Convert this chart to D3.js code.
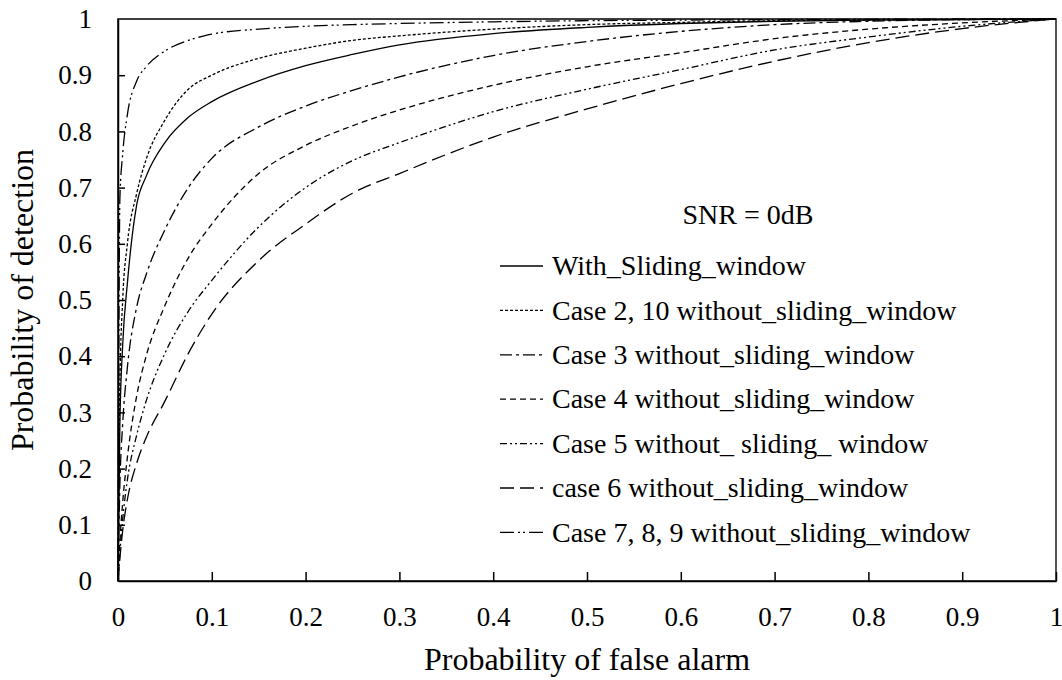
<!DOCTYPE html>
<html lang="en">
<head>
<meta charset="UTF-8">
<title>ROC curves</title>
<script src="https://cdn.jsdelivr.net/npm/d3@7/dist/d3.min.js"></script>
<style>
    body { margin: 0; background: #fff; }
    .axis path, .axis line { stroke: #000; stroke-width: 1.5; }
    .curve { fill: none; stroke: #000; stroke-width: 1.3; }
</style>
</head>
<body>
<div id="chart"></div>
<script>
// probability of false alarm grid (shared by every curve)
var pf = [0, 0.002, 0.005, 0.01, 0.02, 0.03, 0.05, 0.075, 0.1, 0.15, 0.2, 0.25, 0.3, 0.4, 0.5, 0.6, 0.7, 0.8, 0.9, 1];

// probability of detection
var pdSliding = [0, 0.28, 0.42, 0.53, 0.67, 0.72, 0.78, 0.825, 0.853, 0.89, 0.917, 0.937, 0.954, 0.974, 0.985, 0.992, 0.996, 0.998, 0.999, 1];
var pdCase2   = [0, 0.35, 0.50, 0.60, 0.69, 0.75, 0.82, 0.875, 0.90, 0.93, 0.948, 0.962, 0.97, 0.982, 0.99, 0.994, 0.997, 0.998, 0.999, 1];
var pdCase3   = [0, 0.17, 0.28, 0.38, 0.488, 0.545, 0.625, 0.70, 0.752, 0.808, 0.845, 0.873, 0.897, 0.935, 0.96, 0.978, 0.99, 0.996, 0.999, 1];
var pdCase4   = [0, 0.07, 0.14, 0.22, 0.33, 0.40, 0.49, 0.575, 0.635, 0.725, 0.775, 0.81, 0.838, 0.882, 0.915, 0.94, 0.965, 0.982, 0.993, 1];
var pdCase5   = [0, 0.05, 0.11, 0.18, 0.26, 0.32, 0.405, 0.48, 0.535, 0.63, 0.70, 0.748, 0.78, 0.835, 0.875, 0.91, 0.945, 0.968, 0.987, 1];
var pdCase6   = [0, 0.04, 0.09, 0.145, 0.21, 0.255, 0.32, 0.405, 0.475, 0.57, 0.635, 0.69, 0.725, 0.79, 0.84, 0.885, 0.925, 0.958, 0.983, 1];
var pdCase7   = [0, 0.68, 0.76, 0.83, 0.89, 0.915, 0.943, 0.962, 0.973, 0.982, 0.987, 0.99, 0.992, 0.995, 0.997, 0.998, 0.999, 0.9995, 1, 1];

var seriesNames = [
    "With_Sliding_window",
    "Case 2, 10 without_sliding_window",
    "Case 3 without_sliding_window",
    "Case 4 without_sliding_window",
    "Case 5 without_ sliding_ window",
    "case 6 without_sliding_window",
    "Case 7, 8, 9 without_sliding_window"
];
var seriesValues = [pdSliding, pdCase2, pdCase3, pdCase4, pdCase5, pdCase6, pdCase7];
var dashes = ["none", "3,2", "12,4,3,4", "6,4", "7,3,2,3,2,3", "14,6", "14,4,2,3,2,4"];

var xTicks = d3.range(0, 11).map(function(i) { return i / 10; });
var yTicks = xTicks;

var serif = "'Times New Roman', 'Liberation Serif', 'DejaVu Serif', serif";

var container = { width: 1062, height: 680 };
var margin = { top: 19, right: 6, bottom: 99, left: 118 };
var width = container.width - margin.left - margin.right,
    height = container.height - margin.top - margin.bottom;

var svg = d3.select("#chart").append("svg")
    .attr("width", container.width)
    .attr("height", container.height)
    .attr("font-family", serif);

var g = svg.append("g")
    .attr("transform", "translate(" + margin.left + "," + margin.top + ")");

// scales
var x = d3.scaleLinear().domain([0, 1]).range([0, width]);
var y = d3.scaleLinear().domain([0, 1]).range([height, 0]);

function fmt(d) { return d === 0 || d === 1 ? String(d) : d.toFixed(1); }

// frame
g.append("rect")
    .attr("width", width)
    .attr("height", height)
    .attr("fill", "none")
    .attr("stroke", "#000")
    .attr("stroke-width", 1.5);
g.append("line")
    .attr("x1", width).attr("x2", width)
    .attr("y1", 0).attr("y2", height)
    .attr("stroke", "#555").attr("stroke-width", 2);

function styleTicks(a) {
    a.attr("font-family", serif);
    a.selectAll("text").attr("font-family", serif).style("font-size", "27px").attr("fill", "#000");
}

g.append("g")
    .attr("class", "axis")
    .attr("transform", "translate(0," + height + ")")
    .call(d3.axisBottom(x).tickValues(xTicks).tickFormat(fmt)
        .tickSizeInner(-9).tickSizeOuter(0).tickPadding(26))
    .call(styleTicks);

g.append("g")
    .attr("class", "axis")
    .call(d3.axisLeft(y).tickValues(yTicks.filter(function(d) { return d > 0 && d < 1; })).tickFormat(fmt)
        .tickSizeInner(-7).tickSizeOuter(0).tickPadding(26))
    .call(styleTicks);

// 0 and 1 on the y axis sit at the frame corners without tick marks
g.selectAll("text.yend")
    .data([0, 1])
    .enter().append("text")
    .attr("class", "yend")
    .attr("x", -26)
    .attr("y", function(d) { return y(d); })
    .attr("dy", "0.32em")
    .attr("text-anchor", "end")
    .style("font-size", "27px")
    .text(fmt);

// curves
var line = d3.line()
    .x(function(d) { return x(d[0]); })
    .y(function(d) { return y(d[1]); })
    .curve(d3.curveMonotoneX);

g.selectAll("path.curve")
    .data(seriesValues)
    .enter().append("path")
    .attr("class", "curve")
    .attr("stroke-dasharray", function(d, i) { return dashes[i]; })
    .attr("d", function(vals) { return line(pf.map(function(p, j) { return [p, vals[j]]; })); });

// legend
var legend = svg.append("g").attr("transform", "translate(500,266)");
var rowGap = 44.4;

legend.append("text")
    .attr("x", 248)
    .attr("y", -42)
    .attr("text-anchor", "middle")
    .style("font-size", "28px")
    .text("SNR = 0dB");

var rows = legend.selectAll("g.row")
    .data(seriesNames)
    .enter().append("g")
    .attr("class", "row")
    .attr("transform", function(d, i) { return "translate(0," + (i * rowGap) + ")"; });

rows.append("line")
    .attr("class", "curve")
    .attr("x1", 0).attr("x2", 43)
    .attr("stroke-dasharray", function(d, i) { return dashes[i]; });

rows.append("text")
    .attr("x", 52)
    .attr("dy", "0.33em")
    .style("font-size", "28px")
    .text(function(d) { return d; });

// axis titles
svg.append("text")
    .attr("x", margin.left + width / 2)
    .attr("y", 670)
    .attr("text-anchor", "middle")
    .style("font-size", "32px")
    .text("Probability of false alarm");

svg.append("text")
    .attr("transform", "translate(33," + (margin.top + height / 2) + ") rotate(-90)")
    .attr("text-anchor", "middle")
    .style("font-size", "32px")
    .text("Probability of detection");
</script>
</body>
</html>
